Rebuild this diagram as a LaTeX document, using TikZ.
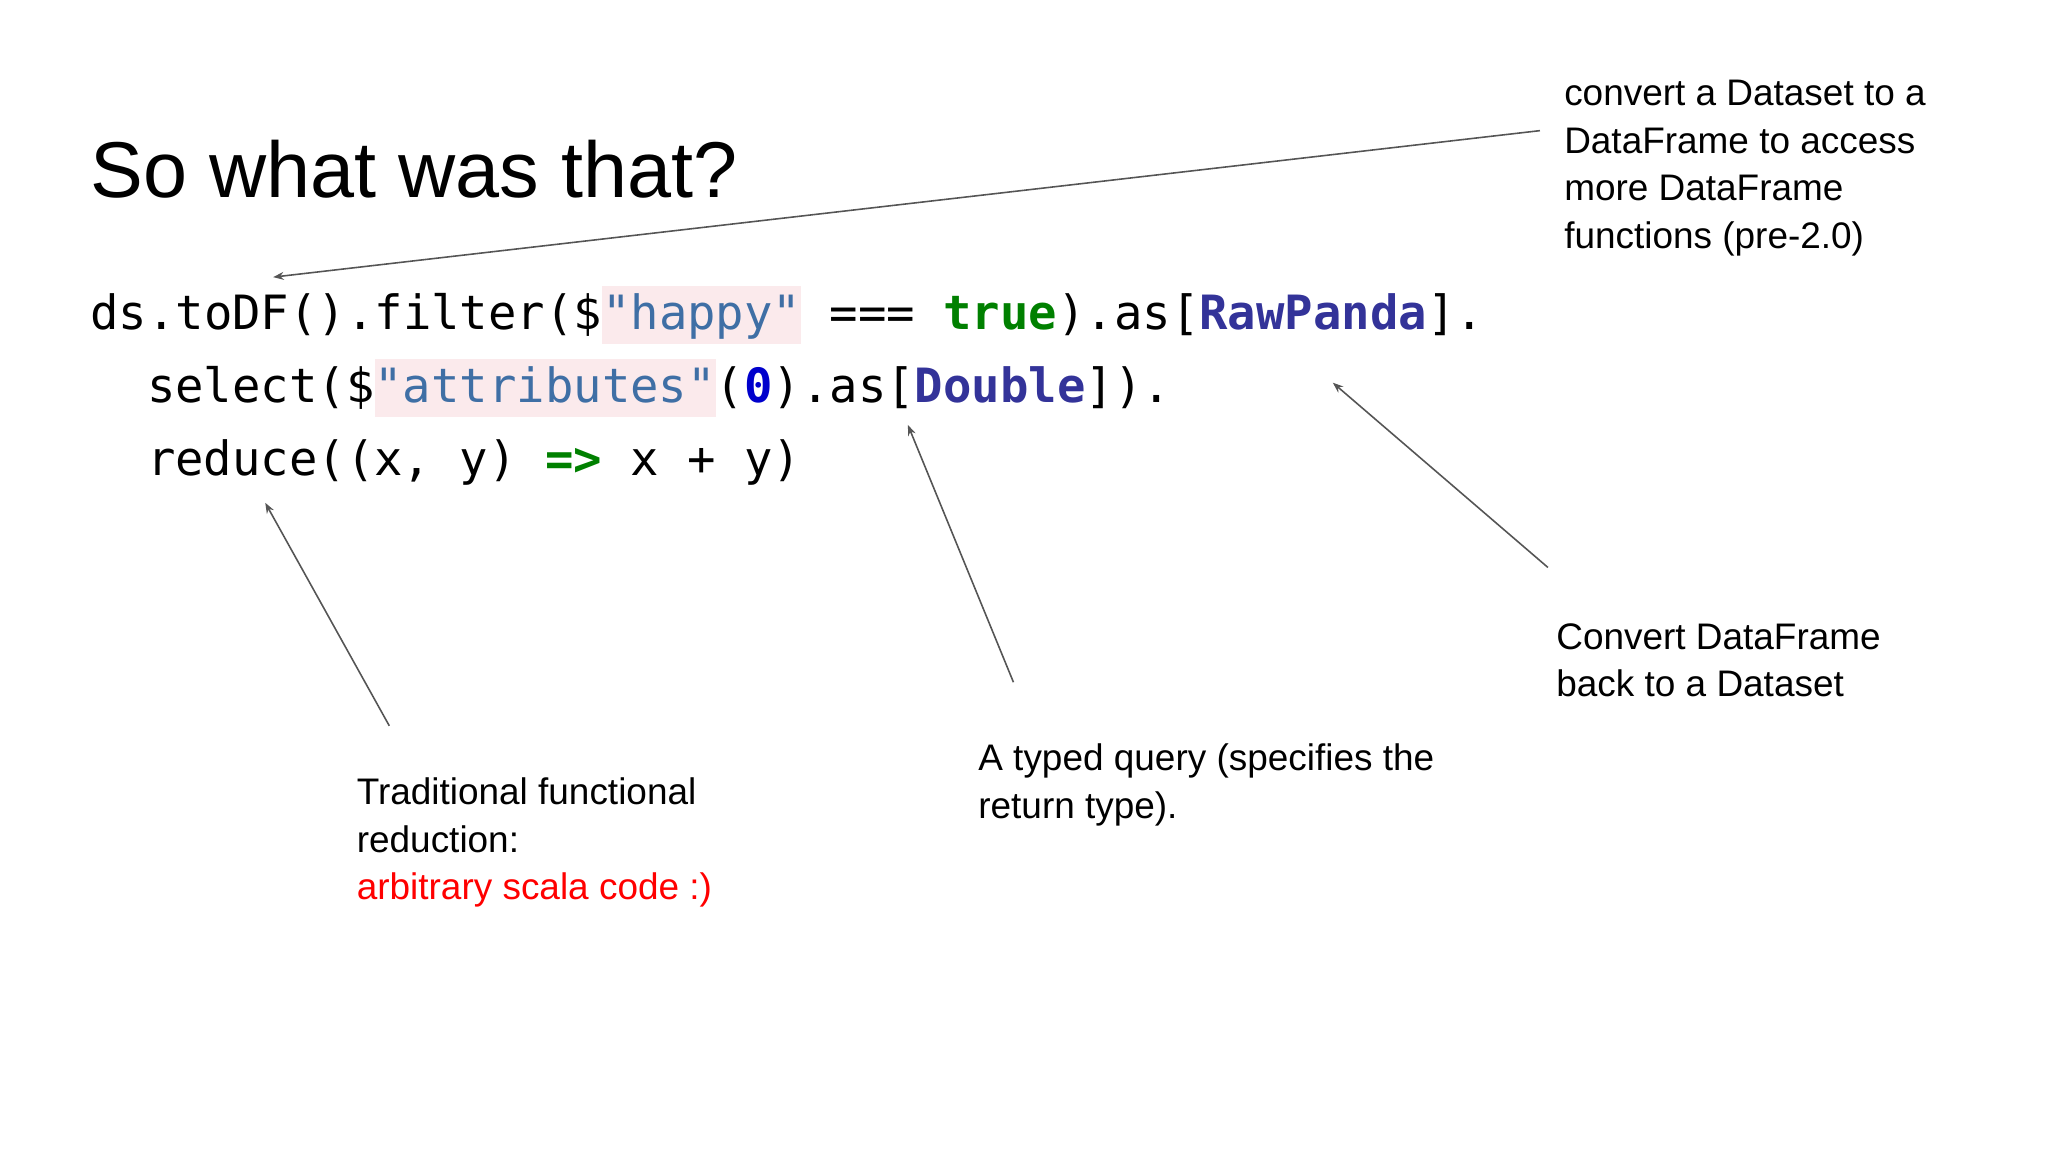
\documentclass[tikz,border=0pt]{standalone}
\usepackage{fontspec}
\usetikzlibrary{arrows.meta}
\setmainfont{Liberation Sans}
\newfontfamily\codefont{DejaVu Sans Mono}
\definecolor{strc}{HTML}{3F6FA5}
\definecolor{grn}{HTML}{008000}
\definecolor{typc}{HTML}{333399}
\definecolor{numc}{HTML}{0000CC}
\definecolor{pinkbg}{HTML}{FBEAEC}
\definecolor{arr}{HTML}{555555}
\newcommand{\hl}[1]{{\setlength\fboxsep{0pt}\colorbox{pinkbg}{\rule[-5.5pt]{0pt}{22pt}#1}}}
\begin{document}
\begin{tikzpicture}[x=0.5pt,y=-0.5pt,
  code/.style={anchor=base west,inner sep=0pt,font=\codefont\fontsize{17.9}{20}\selectfont},
  note/.style={anchor=base west,inner sep=0pt,font=\fontsize{14}{17}\selectfont},
  ptr/.style={draw=arr,line width=0.6pt,-{Stealth[length=4pt,width=3pt]}}]
\useasboundingbox (0,0) rectangle (1552,873);
\node[anchor=base west,inner sep=0pt,font=\fontsize{30}{36}\selectfont] (title) at (68,150) {So what was that?};
\node[code] (l1) at (68,250) {ds.toDF().filter(\$\hl{\textcolor{strc}{"happy"}} === \textcolor{grn}{\bfseries true}).as[\textcolor{typc}{\bfseries RawPanda}].};
\node[code] (l2) at (111,305) {select(\$\hl{\textcolor{strc}{"attributes"}}(\textcolor{numc}{\bfseries 0}).as[\textcolor{typc}{\bfseries Double}]).};
\node[code] (l3) at (111,360) {reduce((x, y) \textcolor{grn}{\bfseries =>} x + y)};
\node[note] (a1) at (1185,80) {convert a Dataset to a};
\node[note] (a2) at (1185,116) {DataFrame to access};
\node[note] (a3) at (1185,152) {more DataFrame};
\node[note] (a4) at (1185,188) {functions (pre-2.0)};
\node[note] (b1) at (1179,492) {Convert DataFrame};
\node[note] (b2) at (1179,528) {back to a Dataset};
\node[note] (c1) at (741,584) {A typed query (specifies the};
\node[note] (c2) at (741,620) {return type).};
\node[note] (d1) at (270,610) {Traditional functional};
\node[note] (d2) at (270,646) {reduction:};
\node[note,text=red] (d3) at (270,682) {arbitrary scala code :)};
\coordinate (s1) at (1167,99); \coordinate (e1) at (207,210);
\coordinate (s2) at (1173,430); \coordinate (e2) at (1010,290);
\coordinate (s3) at (768,517); \coordinate (e3) at (688,322);
\coordinate (s4) at (295,550); \coordinate (e4) at (201,381);
\draw[ptr] (s1) -- (e1);
\draw[ptr] (s2) -- (e2);
\draw[ptr] (s3) -- (e3);
\draw[ptr] (s4) -- (e4);
\end{tikzpicture}
\end{document}
